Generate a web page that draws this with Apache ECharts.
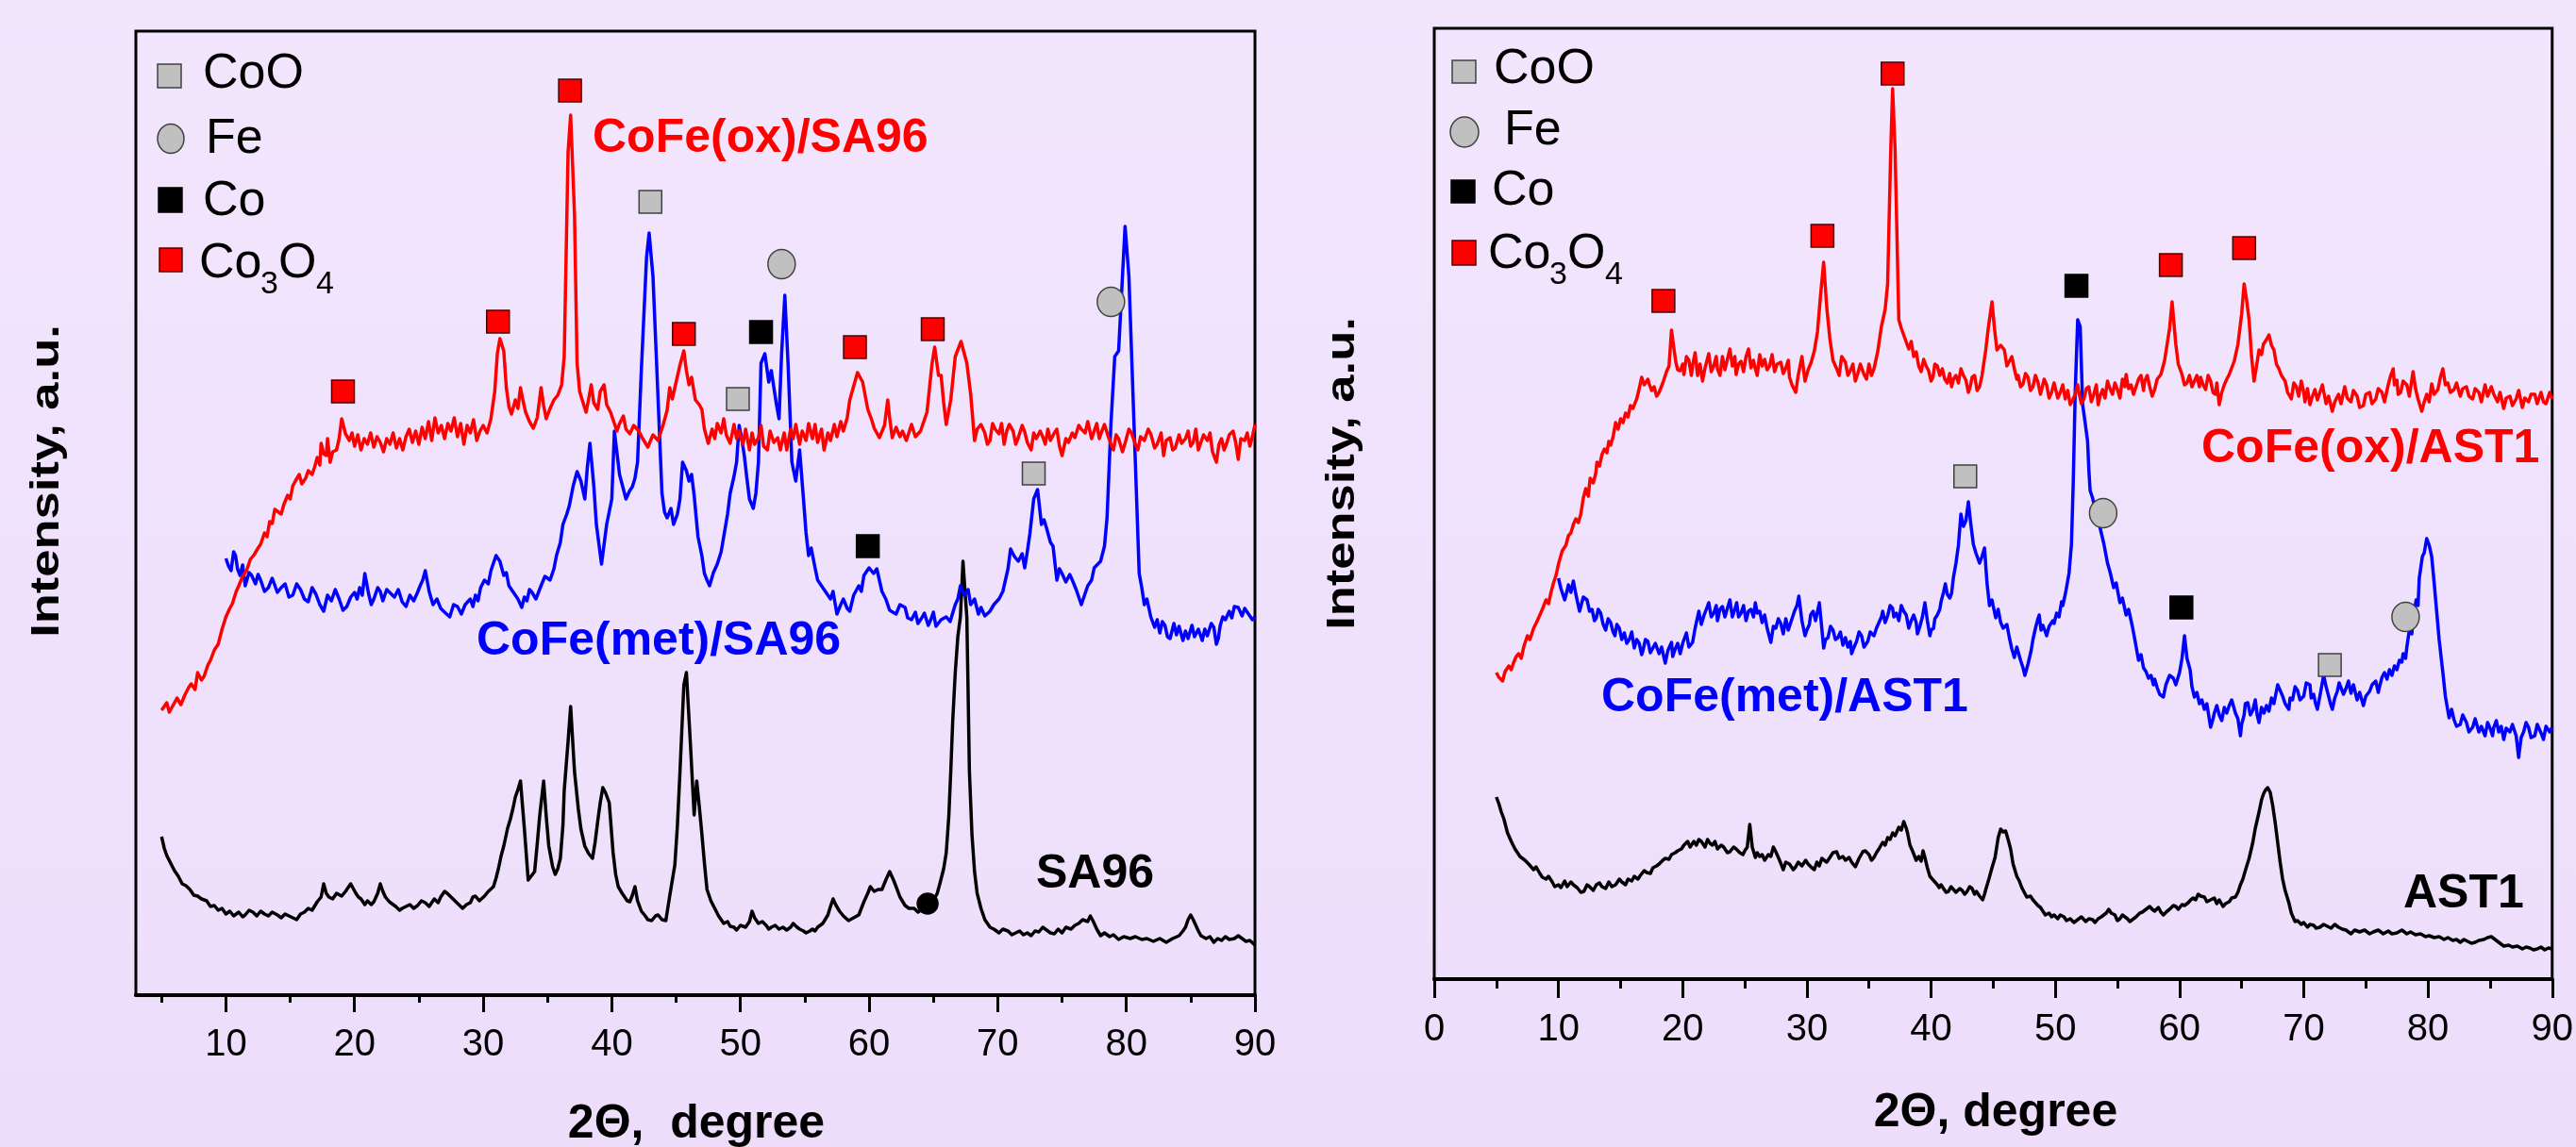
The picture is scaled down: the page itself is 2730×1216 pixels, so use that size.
<!DOCTYPE html>
<html>
<head>
<meta charset="utf-8">
<title>XRD CoFe</title>
<script src="https://cdn.jsdelivr.net/npm/echarts@6/dist/echarts.min.js"></script>
<style>
  html, body { margin: 0; padding: 0; }
  #chart { width: 2730px; height: 1216px; }
</style>
</head>
<body>
<div id="chart"></div>
<script>
// x ticks
const majorTicksLeft = [10, 20, 30, 40, 50, 60, 70, 80, 90];
const minorTicksLeft = [5, 15, 25, 35, 45, 55, 65, 75, 85];

// left panel, 2theta vs intensity (a.u.)
const oxSA96 = [[5.0,302],[5.4,310],[5.6,300],[5.8,305],[6.2,315],[6.5,308],[6.8,318],[7.1,326],[7.3,330],[7.6,324],[7.8,342],[8.1,334],[8.3,338],[8.6,350],[8.8,355],[9.1,366],[9.4,372],[9.7,388],[10.0,401],[10.3,410],[10.5,415],[10.8,428],[11.0,434],[11.3,444],[11.6,450],[11.9,462],[12.2,467],[12.5,474],[12.7,478],[13.0,490],[13.2,486],[13.4,502],[13.6,500],[13.8,515],[14.0,513],[14.3,510],[14.5,520],[14.8,530],[15.0,526],[15.2,540],[15.4,545],[15.7,552],[15.9,542],[16.2,548],[16.4,556],[16.7,552],[16.9,560],[17.1,570],[17.3,562],[17.4,585],[17.6,574],[17.8,572],[17.9,590],[18.1,565],[18.3,576],[18.6,578],[18.8,590],[19.0,611],[19.3,595],[19.6,588],[19.8,596],[20.0,582],[20.25,594],[20.5,578],[20.75,590],[21.0,584],[21.25,596],[21.5,581],[21.75,592],[22.0,586],[22.25,576],[22.5,590],[22.75,584],[23.0,596],[23.25,580],[23.5,590],[23.75,578],[24.0,592],[24.25,600],[24.5,586],[24.75,598],[25.0,584],[25.25,602],[25.5,590],[25.75,608],[26.0,588],[26.25,612],[26.5,596],[26.75,604],[27.0,590],[27.25,606],[27.5,598],[27.75,612],[28.0,592],[28.25,606],[28.5,584],[28.75,604],[29.0,596],[29.25,610],[29.5,588],[29.75,598],[30.0,604],[30.3,596],[30.6,611],[30.9,640],[31.1,680],[31.3,696],[31.6,683],[31.8,644],[32.0,624],[32.2,616],[32.5,631],[32.7,622],[32.9,644],[33.1,630],[33.3,618],[33.6,608],[33.9,601],[34.2,612],[34.5,644],[34.7,625],[34.9,611],[35.2,622],[35.5,631],[35.8,636],[36.1,647],[36.3,677],[36.6,894],[36.8,933],[37.1,828],[37.3,670],[37.5,640],[37.7,631],[38.0,618],[38.2,632],[38.4,647],[38.6,628],[38.9,621],[39.1,640],[39.4,647],[39.6,626],[39.9,618],[40.1,610],[40.4,598],[40.6,606],[40.9,614],[41.1,600],[41.4,595],[41.7,604],[42.1,598],[42.4,590],[42.8,581],[43.2,594],[43.6,588],[44.0,605],[44.3,620],[44.5,644],[44.7,632],[45.0,650],[45.3,668],[45.6,683],[45.8,662],[46.0,647],[46.2,655],[46.5,631],[46.8,626],[47.0,621],[47.2,600],[47.5,585],[47.8,600],[48.0,590],[48.2,606],[48.5,596],[48.7,611],[48.9,594],[49.2,585],[49.5,605],[49.7,590],[49.9,598],[50.2,584],[50.4,600],[50.7,578],[50.9,596],[51.1,584],[51.4,591],[51.6,604],[51.8,582],[52.1,578],[52.3,598],[52.6,586],[52.9,591],[53.1,578],[53.4,596],[53.6,578],[53.9,600],[54.1,590],[54.3,605],[54.6,584],[54.8,598],[55.1,588],[55.3,606],[55.6,590],[55.8,605],[56.0,586],[56.3,600],[56.5,578],[56.8,596],[57.0,588],[57.3,605],[57.5,592],[57.8,608],[58.0,598],[58.3,612],[58.5,631],[59.1,660],[59.5,650],[59.9,621],[60.2,610],[60.4,601],[60.6,596],[60.8,591],[61.2,604],[61.45,631],[61.6,612],[61.8,591],[62.1,602],[62.4,592],[62.6,598],[62.9,588],[63.3,605],[63.6,592],[64.0,598],[64.2,606],[64.5,618],[64.9,670],[65.1,687],[65.4,657],[65.6,657],[65.8,628],[66.0,605],[66.35,631],[66.7,677],[67.15,693],[67.6,670],[67.9,637],[68.2,588],[68.4,600],[68.7,605],[69.0,596],[69.2,584],[69.4,588],[69.6,606],[69.8,600],[70.1,595],[70.3,606],[70.5,584],[70.7,598],[70.9,605],[71.2,598],[71.4,584],[71.6,591],[71.9,604],[72.1,597],[72.3,586],[72.6,578],[72.8,596],[73.0,590],[73.3,598],[73.5,592],[73.7,584],[73.9,600],[74.1,588],[74.4,596],[74.6,600],[74.8,582],[75.0,572],[75.3,590],[75.5,586],[75.8,596],[76.0,591],[76.3,604],[76.5,600],[76.8,596],[77.0,608],[77.3,590],[77.5,598],[77.7,606],[77.9,590],[78.1,598],[78.3,605],[78.6,592],[78.8,584],[79.0,578],[79.2,594],[79.4,590],[79.7,576],[79.9,585],[80.2,600],[80.4,596],[80.7,584],[80.9,578],[81.1,592],[81.4,588],[81.7,600],[81.9,595],[82.2,580],[82.4,584],[82.7,596],[82.9,572],[83.1,588],[83.4,591],[83.6,578],[83.8,580],[84.1,594],[84.3,585],[84.6,590],[84.8,598],[85.0,582],[85.2,586],[85.4,600],[85.6,578],[85.8,586],[86.0,594],[86.3,588],[86.5,596],[86.7,576],[87.0,565],[87.2,584],[87.4,590],[87.6,578],[87.8,585],[88.0,594],[88.3,598],[88.5,586],[88.7,568],[88.9,590],[89.2,588],[89.4,596],[89.6,582],[89.8,592],[90.0,605]];
const metSA96 = [[10.0,463],[10.2,455],[10.4,450],[10.6,470],[10.75,466],[10.9,452],[11.1,445],[11.3,456],[11.5,434],[11.8,448],[12.0,445],[12.3,436],[12.5,446],[12.7,440],[13.0,428],[13.3,432],[13.6,442],[14.0,427],[14.3,432],[14.6,436],[14.9,422],[15.2,424],[15.5,436],[15.8,430],[16.1,420],[16.4,417],[16.7,432],[17.0,425],[17.3,414],[17.6,407],[17.9,424],[18.2,418],[18.5,430],[18.8,420],[19.1,408],[19.4,412],[19.7,422],[20.0,427],[20.2,420],[20.4,432],[20.6,424],[20.8,447],[21.1,425],[21.3,414],[21.5,420],[21.8,432],[22.0,428],[22.2,418],[22.5,430],[22.8,426],[23.1,422],[23.4,430],[23.7,417],[24.0,412],[24.3,424],[24.6,418],[24.9,427],[25.1,434],[25.3,440],[25.5,450],[25.8,428],[26.1,414],[26.4,420],[26.7,410],[27.0,406],[27.4,401],[27.7,414],[28.0,412],[28.3,404],[28.6,414],[29.0,420],[29.2,412],[29.4,424],[29.6,418],[29.8,432],[30.1,440],[30.4,436],[30.6,450],[30.8,458],[31.0,466],[31.3,460],[31.6,445],[31.8,448],[32.0,434],[32.3,428],[32.7,420],[33.0,411],[33.2,422],[33.4,418],[33.6,430],[33.8,427],[34.1,420],[34.5,434],[34.8,444],[35.2,440],[35.5,452],[35.7,466],[36.0,480],[36.2,499],[36.5,510],[36.7,519],[37.0,540],[37.3,555],[37.6,545],[37.9,526],[38.1,560],[38.3,585],[38.6,540],[38.8,499],[39.2,457],[39.6,499],[40.0,526],[40.2,598],[40.6,552],[41.1,526],[41.4,535],[41.6,539],[41.8,548],[42.0,565],[42.3,664],[42.7,782],[42.9,808],[43.2,762],[43.6,631],[43.9,532],[44.1,512],[44.3,506],[44.6,516],[44.8,499],[45.1,510],[45.3,526],[45.5,565],[45.8,556],[46.0,545],[46.2,552],[46.4,530],[46.7,486],[47.0,466],[47.2,447],[47.4,440],[47.6,434],[47.9,448],[48.2,457],[48.5,470],[48.7,486],[49.0,510],[49.2,532],[49.5,550],[49.7,565],[49.9,604],[50.1,590],[50.3,572],[50.5,548],[50.7,526],[51.0,516],[51.2,532],[51.4,565],[51.6,670],[51.9,680],[52.2,650],[52.4,662],[52.6,644],[52.8,626],[53.0,611],[53.2,680],[53.45,742],[53.7,670],[54.0,565],[54.3,545],[54.6,578],[54.9,526],[55.1,490],[55.3,466],[55.5,474],[55.8,453],[56.0,440],[56.3,434],[56.6,428],[57.0,420],[57.2,428],[57.5,404],[57.8,414],[58.0,420],[58.3,410],[58.5,407],[58.8,424],[59.2,434],[59.4,428],[59.6,445],[60.0,453],[60.35,447],[60.6,452],[60.8,440],[61.0,428],[61.3,420],[61.6,408],[62.1,404],[62.4,414],[62.8,411],[63.0,400],[63.3,398],[63.6,406],[63.8,394],[64.1,400],[64.3,405],[64.6,392],[64.8,398],[65.0,406],[65.2,391],[65.6,398],[66.0,401],[66.3,396],[66.7,414],[66.9,420],[67.1,434],[67.4,424],[67.7,430],[67.9,414],[68.2,420],[68.5,404],[68.7,411],[69.0,402],[69.4,407],[69.7,414],[70.1,420],[70.4,428],[70.6,440],[70.8,452],[71.0,473],[71.3,465],[71.6,460],[71.9,468],[72.1,453],[72.3,470],[72.5,489],[72.8,526],[73.1,536],[73.4,499],[73.6,504],[73.8,495],[74.1,480],[74.3,476],[74.6,440],[74.8,452],[75.0,447],[75.3,438],[75.6,446],[75.8,440],[76.1,430],[76.5,414],[76.8,426],[77.0,434],[77.3,440],[77.5,453],[78.0,460],[78.3,476],[78.5,506],[78.8,605],[79.1,677],[79.4,683],[79.7,762],[79.9,815],[80.2,762],[80.4,683],[80.7,565],[81.0,447],[81.2,432],[81.4,414],[81.6,420],[81.9,401],[82.2,390],[82.4,398],[82.6,384],[82.8,396],[83.0,392],[83.2,380],[83.4,378],[83.7,394],[83.9,382],[84.1,391],[84.4,376],[84.6,386],[84.8,378],[85.1,392],[85.3,380],[85.6,388],[85.9,376],[86.1,388],[86.3,381],[86.6,394],[86.8,390],[87.0,372],[87.15,378],[87.3,392],[87.5,401],[87.7,398],[88.0,407],[88.2,400],[88.4,412],[88.7,411],[89.0,402],[89.2,410],[89.5,404],[89.8,398],[90.0,401]];
const SA96 = [[5.0,168],[5.2,156],[5.4,148],[5.7,140],[6.0,132],[6.3,126],[6.6,118],[6.9,116],[7.2,112],[7.5,106],[7.8,105],[8.1,102],[8.5,100],[8.8,94],[9.1,95],[9.4,90],[9.7,92],[10.0,86],[10.3,89],[10.6,84],[11.0,88],[11.3,83],[11.5,85],[11.8,90],[12.1,88],[12.4,84],[12.7,89],[13.0,86],[13.3,84],[13.6,88],[14.0,85],[14.3,82],[14.6,86],[14.9,84],[15.2,82],[15.5,80],[15.8,86],[16.1,88],[16.4,92],[16.7,90],[17.1,99],[17.4,104],[17.6,118],[17.8,108],[18.0,104],[18.3,102],[18.6,108],[19.0,105],[19.3,110],[19.7,118],[20.1,108],[20.3,104],[20.5,102],[20.8,96],[21.0,100],[21.3,96],[21.5,99],[21.8,108],[22.0,118],[22.2,110],[22.4,104],[22.7,99],[23.0,96],[23.2,94],[23.5,90],[23.7,92],[24.0,94],[24.3,96],[24.6,92],[24.9,95],[25.2,100],[25.5,98],[25.8,94],[26.2,102],[26.5,98],[26.7,104],[27.0,110],[27.2,108],[27.5,104],[27.8,100],[28.1,96],[28.4,92],[28.7,96],[29.0,98],[29.2,104],[29.4,105],[29.7,100],[30.1,105],[30.4,110],[30.8,115],[31.0,124],[31.2,135],[31.4,148],[31.6,158],[31.9,177],[32.1,186],[32.3,197],[32.5,210],[32.7,218],[32.9,227],[33.2,177],[33.5,122],[34.0,131],[34.2,160],[34.4,191],[34.7,227],[34.9,190],[35.1,158],[35.4,136],[35.6,128],[35.8,134],[36.0,145],[36.2,180],[36.3,217],[36.6,269],[36.8,306],[37.1,237],[37.4,197],[37.6,176],[37.9,158],[38.2,150],[38.5,145],[38.7,162],[38.9,184],[39.1,204],[39.3,220],[39.5,215],[39.8,204],[40.1,151],[40.3,128],[40.5,115],[40.8,108],[41.0,104],[41.2,100],[41.4,99],[41.6,106],[41.8,115],[42.0,100],[42.3,89],[42.6,84],[42.8,80],[43.1,79],[43.4,84],[43.6,85],[43.9,80],[44.2,79],[44.5,105],[44.9,138],[45.1,180],[45.3,237],[45.6,329],[45.8,342],[46.1,269],[46.4,191],[46.6,227],[46.8,200],[47.0,171],[47.2,140],[47.4,112],[47.7,100],[48.0,92],[48.3,84],[48.7,76],[49.0,78],[49.2,73],[49.5,72],[49.7,69],[50.0,74],[50.4,72],[50.7,78],[50.9,89],[51.1,82],[51.4,76],[51.7,78],[52.0,74],[52.2,70],[52.4,72],[52.7,74],[53.0,70],[53.3,72],[53.6,69],[53.9,72],[54.1,76],[54.4,72],[54.6,70],[54.9,68],[55.1,66],[55.4,68],[55.6,70],[55.8,68],[56.0,72],[56.4,76],[56.8,85],[57.0,94],[57.2,102],[57.4,96],[57.7,89],[58.0,84],[58.4,79],[58.8,82],[59.2,85],[59.4,92],[59.6,99],[59.9,108],[60.1,115],[60.4,110],[60.7,112],[61.0,112],[61.3,122],[61.6,131],[61.9,122],[62.1,115],[62.4,104],[62.8,95],[63.1,92],[63.5,92],[63.8,88],[64.0,90],[64.5,92],[64.8,96],[65.0,100],[65.3,108],[65.5,118],[65.8,134],[66.0,151],[66.2,190],[66.35,237],[66.5,290],[66.7,342],[66.9,380],[67.1,401],[67.3,460],[67.45,430],[67.6,401],[67.7,320],[67.8,237],[68.0,170],[68.2,131],[68.4,108],[68.7,92],[69.0,80],[69.4,72],[69.7,70],[70.1,66],[70.4,70],[70.8,68],[71.1,64],[71.4,66],[71.7,68],[72.0,64],[72.3,66],[72.6,63],[72.9,68],[73.2,67],[73.5,72],[73.8,69],[74.1,66],[74.4,65],[74.7,70],[75.0,66],[75.3,72],[75.7,70],[76.0,74],[76.3,76],[76.6,80],[77.0,78],[77.2,84],[77.4,79],[77.7,70],[78.0,63],[78.3,66],[78.7,62],[79.0,64],[79.4,59],[79.8,62],[80.3,60],[80.7,62],[81.2,59],[81.6,60],[82.1,57],[82.6,60],[83.1,56],[83.6,60],[84.1,63],[84.4,68],[84.6,72],[84.8,80],[85.0,85],[85.2,80],[85.4,74],[85.6,68],[85.8,63],[86.2,60],[86.5,62],[86.8,56],[87.1,60],[87.4,58],[87.7,62],[88.0,59],[88.4,60],[88.7,63],[89.0,60],[89.3,57],[89.6,58],[90.0,53]];

// right panel
const oxAST1 = [[5.0,325],[5.2,320],[5.5,316],[5.7,326],[6.0,332],[6.2,328],[6.4,336],[6.6,342],[6.8,345],[7.0,340],[7.2,352],[7.5,364],[7.7,360],[8.0,372],[8.3,380],[8.5,386],[8.7,392],[9.0,402],[9.2,398],[9.4,410],[9.6,420],[9.8,428],[10.0,440],[10.3,454],[10.6,460],[10.8,470],[11.0,473],[11.2,482],[11.4,488],[11.6,484],[11.8,493],[12.0,510],[12.2,520],[12.4,512],[12.55,531],[12.8,526],[13.0,536],[13.1,548],[13.3,544],[13.5,556],[13.7,562],[13.9,558],[14.05,570],[14.2,566],[14.4,575],[14.6,590],[14.8,583],[15.0,594],[15.2,590],[15.4,600],[15.6,596],[15.8,608],[16.0,605],[16.2,612],[16.3,615],[16.5,626],[16.7,638],[16.9,630],[17.0,632],[17.2,636],[17.3,631],[17.5,624],[17.7,628],[17.9,618],[18.1,622],[18.4,632],[18.7,644],[18.9,650],[19.1,688],[19.3,668],[19.45,654],[19.6,646],[19.8,645],[20.0,652],[20.1,641],[20.3,660],[20.5,656],[20.7,640],[20.8,651],[21.0,664],[21.2,640],[21.4,652],[21.6,634],[21.8,648],[22.1,663],[22.3,644],[22.5,650],[22.7,660],[22.8,647],[23.0,640],[23.2,660],[23.4,646],[23.6,657],[23.8,668],[24.0,650],[24.2,660],[24.3,641],[24.5,652],[24.7,655],[24.9,644],[25.1,660],[25.3,668],[25.5,648],[25.7,656],[25.85,647],[26.0,640],[26.2,662],[26.4,650],[26.6,657],[26.8,646],[27.0,650],[27.2,662],[27.4,644],[27.6,652],[27.9,654],[28.1,642],[28.3,648],[28.5,656],[28.6,638],[28.8,630],[29.1,622],[29.3,640],[29.6,660],[29.85,634],[30.1,646],[30.35,654],[30.6,666],[30.85,686],[31.1,725],[31.35,760],[31.6,712],[31.85,679],[32.1,656],[32.4,647],[32.6,640],[32.8,660],[33.1,654],[33.3,640],[33.5,645],[33.7,652],[33.9,634],[34.1,642],[34.3,652],[34.6,641],[34.8,636],[35.0,652],[35.2,640],[35.4,647],[35.7,665],[36.0,692],[36.3,710],[36.5,737],[36.75,879],[36.9,944],[37.1,879],[37.4,699],[37.6,690],[37.9,679],[38.2,668],[38.4,676],[38.6,660],[38.8,665],[39.0,650],[39.2,644],[39.4,657],[39.6,650],[39.8,645],[40.0,634],[40.15,638],[40.3,652],[40.5,650],[40.7,640],[40.9,647],[41.1,636],[41.3,632],[41.5,642],[41.65,628],[41.8,636],[42.0,640],[42.2,632],[42.4,647],[42.6,640],[42.8,635],[43.0,622],[43.15,628],[43.3,638],[43.5,640],[43.7,624],[43.9,628],[44.1,640],[44.4,667],[44.6,690],[44.9,718],[45.1,690],[45.3,667],[45.6,672],[45.9,667],[46.1,650],[46.3,655],[46.5,660],[46.7,647],[46.9,636],[47.0,640],[47.2,628],[47.4,631],[47.6,642],[47.8,638],[48.0,624],[48.2,628],[48.4,640],[48.6,633],[48.8,620],[48.9,625],[49.1,636],[49.3,630],[49.5,616],[49.7,622],[49.9,632],[50.0,630],[50.2,616],[50.4,622],[50.6,630],[50.8,615],[51.0,624],[51.2,609],[51.4,614],[51.6,620],[51.8,630],[51.9,622],[52.1,610],[52.3,615],[52.5,626],[52.7,628],[52.9,612],[53.1,620],[53.3,630],[53.45,609],[53.6,618],[53.8,625],[54.0,616],[54.2,634],[54.4,626],[54.6,620],[54.8,632],[55.0,625],[55.2,616],[55.4,636],[55.6,628],[55.7,641],[55.9,626],[56.1,630],[56.3,620],[56.5,628],[56.7,636],[56.9,640],[57.1,624],[57.2,634],[57.4,640],[57.6,628],[57.8,618],[58.0,625],[58.2,636],[58.5,641],[58.8,656],[59.0,673],[59.2,690],[59.4,718],[59.7,673],[59.9,652],[60.2,641],[60.4,630],[60.6,632],[60.8,640],[61.0,628],[61.2,634],[61.4,640],[61.6,628],[61.7,638],[61.9,630],[62.1,625],[62.3,640],[62.5,634],[62.7,622],[62.9,620],[63.0,632],[63.2,609],[63.4,622],[63.6,630],[63.8,636],[64.0,641],[64.2,648],[64.4,655],[64.7,673],[65.0,705],[65.2,737],[65.4,720],[65.6,699],[65.8,660],[66.0,634],[66.2,650],[66.4,667],[66.6,662],[66.75,673],[67.0,678],[67.2,683],[67.4,672],[67.6,667],[67.8,652],[68.0,647],[68.2,640],[68.5,634],[68.7,622],[69.0,615],[69.2,632],[69.4,628],[69.6,618],[69.8,634],[70.0,622],[70.1,612],[70.3,626],[70.5,609],[70.7,618],[70.9,625],[71.1,614],[71.3,622],[71.5,630],[71.8,610],[72.0,618],[72.3,602],[72.5,612],[72.8,620],[73.0,610],[73.3,628],[73.5,616],[73.8,612],[74.0,624],[74.3,618],[74.5,606],[74.8,608],[75.0,620],[75.3,622],[75.5,610],[75.8,615],[76.0,626],[76.3,622],[76.5,612],[76.8,630],[77.0,640],[77.2,647],[77.3,630],[77.5,635],[77.6,620],[77.8,622],[78.0,634],[78.3,630],[78.5,618],[78.8,644],[79.0,626],[79.2,615],[79.5,602],[79.7,612],[79.9,620],[80.1,612],[80.3,631],[80.5,620],[80.8,625],[81.0,638],[81.2,647],[81.4,630],[81.6,632],[81.8,622],[82.1,625],[82.3,632],[82.6,618],[82.8,626],[83.1,628],[83.3,618],[83.6,615],[83.8,626],[84.1,622],[84.3,612],[84.6,630],[84.8,618],[85.1,628],[85.3,620],[85.6,612],[85.8,622],[86.1,605],[86.3,616],[86.6,618],[86.8,608],[87.1,615],[87.3,624],[87.6,606],[87.8,616],[88.1,612],[88.3,620],[88.6,620],[88.8,610],[89.1,622],[89.3,612],[89.5,610],[89.8,622],[90.0,615]];
const metAST1 = [[10.0,425],[10.2,414],[10.5,402],[10.7,412],[10.8,418],[11.0,410],[11.2,422],[11.4,408],[11.7,390],[12.0,405],[12.3,402],[12.5,390],[12.7,392],[12.9,380],[13.05,383],[13.2,392],[13.4,388],[13.6,376],[13.8,370],[14.0,382],[14.2,378],[14.4,368],[14.55,364],[14.7,376],[14.9,372],[15.1,360],[15.3,367],[15.5,356],[15.7,360],[15.9,368],[16.1,351],[16.3,360],[16.5,356],[16.7,344],[16.8,348],[17.0,360],[17.2,358],[17.4,346],[17.6,351],[17.8,356],[18.1,345],[18.3,352],[18.6,335],[18.8,348],[19.1,357],[19.2,342],[19.4,350],[19.6,356],[19.8,345],[20.0,356],[20.3,367],[20.5,352],[20.8,357],[21.0,372],[21.3,390],[21.5,376],[21.7,385],[21.9,392],[22.1,399],[22.3,384],[22.5,388],[22.7,396],[22.8,380],[23.0,392],[23.2,395],[23.4,384],[23.6,393],[23.8,402],[24.0,384],[24.2,392],[24.35,399],[24.5,384],[24.7,388],[24.9,396],[25.1,380],[25.3,390],[25.5,392],[25.7,384],[25.85,399],[26.0,388],[26.2,390],[26.4,378],[26.6,386],[26.8,372],[27.1,357],[27.3,374],[27.5,372],[27.7,382],[27.9,377],[28.1,366],[28.3,382],[28.5,370],[28.6,374],[28.8,382],[29.0,390],[29.2,396],[29.35,406],[29.6,380],[29.85,364],[30.0,370],[30.2,376],[30.3,386],[30.5,390],[30.7,380],[31.0,399],[31.2,372],[31.35,351],[31.5,360],[31.7,362],[31.9,374],[32.1,370],[32.3,360],[32.5,362],[32.7,368],[32.9,354],[33.1,362],[33.3,352],[33.5,358],[33.6,345],[33.8,352],[34.0,358],[34.2,368],[34.4,364],[34.6,352],[34.9,358],[35.1,368],[35.4,364],[35.6,372],[35.8,378],[36.0,384],[36.1,390],[36.3,378],[36.5,385],[36.7,396],[36.9,393],[37.0,384],[37.2,388],[37.4,380],[37.6,396],[37.8,390],[38.0,386],[38.2,372],[38.4,380],[38.6,386],[38.8,378],[38.9,366],[39.1,374],[39.3,384],[39.5,399],[39.7,380],[39.9,364],[40.0,370],[40.2,372],[40.3,382],[40.5,386],[40.7,392],[40.8,400],[41.0,410],[41.15,419],[41.3,408],[41.5,404],[41.65,409],[41.8,426],[42.0,441],[42.2,460],[42.4,493],[42.6,480],[42.8,486],[43.0,506],[43.2,482],[43.4,461],[43.6,452],[43.9,441],[44.1,448],[44.3,457],[44.5,420],[44.7,396],[44.9,402],[45.2,383],[45.4,392],[45.6,378],[45.8,372],[45.9,370],[46.1,376],[46.3,362],[46.5,350],[46.7,341],[46.9,352],[47.2,338],[47.4,330],[47.55,322],[47.8,334],[48.05,348],[48.2,360],[48.4,372],[48.6,382],[48.7,386],[48.85,370],[49.0,375],[49.2,368],[49.3,364],[49.5,374],[49.6,372],[49.8,380],[49.9,377],[50.1,388],[50.3,384],[50.5,400],[50.6,396],[50.8,408],[50.9,415],[51.1,430],[51.3,461],[51.45,530],[51.6,622],[51.8,699],[52.0,692],[52.2,609],[52.4,590],[52.6,570],[52.7,540],[52.8,518],[53.0,510],[53.2,499],[53.4,490],[53.7,473],[53.9,462],[54.2,441],[54.4,432],[54.7,415],[54.9,420],[55.2,399],[55.4,404],[55.7,386],[55.9,392],[56.2,374],[56.4,360],[56.7,338],[56.9,344],[57.1,330],[57.3,326],[57.5,319],[57.7,322],[57.9,312],[58.0,318],[58.2,309],[58.4,302],[58.7,299],[58.9,312],[59.0,310],[59.2,322],[59.5,319],[59.7,312],[60.0,325],[60.2,340],[60.4,364],[60.6,340],[60.85,328],[61.0,310],[61.2,299],[61.4,304],[61.6,292],[61.8,296],[62.0,286],[62.2,292],[62.5,267],[62.7,276],[62.8,282],[63.0,290],[63.2,280],[63.4,274],[63.6,288],[63.8,282],[64.0,290],[64.2,296],[64.5,282],[64.7,276],[64.9,258],[65.0,270],[65.2,280],[65.3,292],[65.5,293],[65.7,280],[65.9,285],[66.1,296],[66.25,280],[66.4,272],[66.6,288],[66.8,282],[67.0,290],[67.2,284],[67.4,298],[67.6,292],[67.9,312],[68.1,306],[68.3,300],[68.5,292],[68.8,286],[68.9,298],[69.1,296],[69.3,310],[69.5,306],[69.7,296],[70.0,300],[70.2,314],[70.5,312],[70.6,298],[70.8,302],[70.95,292],[71.1,286],[71.3,300],[71.6,322],[71.8,310],[72.0,300],[72.15,292],[72.3,286],[72.5,298],[72.7,305],[72.85,314],[73.0,316],[73.2,302],[73.4,308],[73.6,316],[73.8,303],[74.0,312],[74.3,296],[74.5,304],[74.8,290],[75.0,300],[75.3,305],[75.5,312],[75.8,316],[76.0,304],[76.1,310],[76.3,320],[76.5,325],[76.7,318],[76.9,328],[77.1,322],[77.3,332],[77.5,328],[77.7,338],[77.9,336],[78.0,345],[78.2,340],[78.3,352],[78.5,370],[78.7,366],[78.8,382],[79.05,402],[79.2,396],[79.3,425],[79.55,448],[79.7,452],[79.9,467],[80.1,460],[80.3,448],[80.5,420],[80.7,390],[80.9,360],[81.2,325],[81.4,300],[81.7,277],[81.9,286],[82.1,275],[82.3,268],[82.6,270],[82.8,280],[83.1,272],[83.3,262],[83.6,267],[83.8,276],[84.1,262],[84.3,268],[84.6,258],[84.8,272],[85.0,266],[85.2,258],[85.3,267],[85.5,274],[85.7,262],[85.9,268],[86.1,254],[86.3,266],[86.6,262],[86.8,270],[87.1,258],[87.3,235],[87.5,256],[87.7,262],[87.9,272],[88.1,267],[88.3,256],[88.6,258],[88.8,270],[89.1,261],[89.3,254],[89.5,268],[89.8,262],[90.0,267]];
const AST1 = [[5.0,193],[5.2,186],[5.4,177],[5.6,170],[5.9,155],[6.2,146],[6.5,138],[6.9,130],[7.3,126],[7.6,122],[8.0,116],[8.2,119],[8.5,112],[8.7,108],[9.0,106],[9.2,109],[9.5,103],[9.7,98],[10.0,100],[10.2,97],[10.5,104],[10.7,98],[11.0,103],[11.2,100],[11.5,97],[11.8,92],[12.05,93],[12.3,100],[12.5,98],[12.8,94],[13.05,100],[13.3,102],[13.5,98],[13.8,96],[14.05,103],[14.3,98],[14.6,100],[14.9,106],[15.1,103],[15.4,100],[15.6,106],[15.9,104],[16.1,109],[16.4,106],[16.6,110],[16.9,115],[17.1,113],[17.4,112],[17.6,118],[17.9,120],[18.1,122],[18.4,126],[18.6,128],[18.9,127],[19.1,132],[19.4,134],[19.6,136],[19.9,138],[20.1,142],[20.4,146],[20.6,140],[20.9,146],[21.1,142],[21.3,148],[21.5,146],[21.8,140],[22.0,148],[22.2,144],[22.4,142],[22.6,146],[22.8,138],[23.1,142],[23.3,140],[23.6,134],[23.8,135],[24.1,140],[24.3,138],[24.6,134],[24.85,132],[25.0,136],[25.2,140],[25.4,164],[25.6,140],[25.85,129],[26.0,134],[26.2,130],[26.4,132],[26.6,126],[26.9,132],[27.1,130],[27.3,140],[27.5,135],[27.8,126],[28.1,116],[28.3,124],[28.6,122],[28.9,116],[29.1,119],[29.3,124],[29.6,120],[29.9,126],[30.1,122],[30.4,118],[30.6,116],[30.8,124],[31.0,120],[31.2,128],[31.35,126],[31.6,124],[31.9,130],[32.1,134],[32.4,135],[32.6,128],[32.9,130],[33.1,126],[33.4,129],[33.6,124],[33.9,119],[34.2,128],[34.5,135],[34.7,136],[35.0,132],[35.2,126],[35.4,129],[35.6,134],[35.8,138],[36.1,145],[36.3,142],[36.5,150],[36.7,148],[36.9,155],[37.1,152],[37.4,161],[37.6,158],[37.8,167],[38.0,160],[38.1,155],[38.3,142],[38.5,136],[38.8,126],[39.0,130],[39.2,125],[39.35,136],[39.5,129],[39.7,118],[39.9,109],[40.1,106],[40.3,103],[40.5,100],[40.65,97],[40.8,100],[41.0,96],[41.2,92],[41.4,93],[41.6,98],[41.8,95],[42.0,92],[42.15,90],[42.3,96],[42.5,94],[42.7,90],[42.9,93],[43.1,98],[43.3,96],[43.5,90],[43.65,93],[43.9,88],[44.15,84],[44.3,90],[44.4,95],[44.65,106],[44.9,118],[45.15,129],[45.4,150],[45.6,159],[45.8,156],[46.0,157],[46.2,148],[46.4,138],[46.6,122],[46.9,109],[47.1,104],[47.3,97],[47.5,92],[47.7,87],[48.0,88],[48.2,84],[48.4,81],[48.6,78],[48.8,76],[49.0,72],[49.2,68],[49.5,70],[49.7,66],[49.9,68],[50.2,64],[50.4,68],[50.7,66],[50.9,62],[51.2,64],[51.5,60],[51.8,63],[52.1,66],[52.45,61],[52.7,64],[53.0,63],[53.2,60],[53.45,64],[53.7,66],[53.9,68],[54.1,70],[54.3,74],[54.5,70],[54.8,68],[55.0,62],[55.2,64],[55.4,68],[55.6,66],[55.8,64],[56.0,61],[56.3,64],[56.5,66],[56.8,70],[57.0,71],[57.3,74],[57.6,77],[57.8,74],[58.0,72],[58.3,76],[58.5,71],[58.7,68],[59.0,72],[59.2,74],[59.5,78],[59.7,77],[59.9,74],[60.2,79],[60.4,78],[60.7,81],[60.9,84],[61.1,86],[61.3,84],[61.5,90],[61.7,88],[62.0,87],[62.2,82],[62.5,84],[62.8,86],[63.0,80],[63.2,84],[63.5,77],[63.7,80],[64.0,82],[64.2,86],[64.5,87],[64.7,92],[64.9,100],[65.1,106],[65.25,113],[65.6,128],[65.9,145],[66.1,160],[66.4,177],[66.6,190],[66.75,196],[66.9,200],[67.1,203],[67.3,198],[67.5,184],[67.7,166],[67.9,145],[68.1,124],[68.3,106],[68.5,94],[68.8,81],[69.0,70],[69.3,61],[69.5,62],[69.8,58],[70.0,60],[70.3,55],[70.5,58],[70.8,57],[71.0,54],[71.3,55],[71.6,58],[71.9,56],[72.2,54],[72.5,58],[72.8,55],[73.1,53],[73.4,52],[73.8,48],[74.1,52],[74.5,50],[74.9,52],[75.3,48],[75.6,50],[76.0,52],[76.4,48],[76.8,51],[77.1,48],[77.5,49],[77.9,52],[78.3,48],[78.6,50],[79.0,47],[79.4,48],[79.8,45],[80.1,46],[80.5,44],[80.9,45],[81.3,42],[81.6,44],[82.0,41],[82.3,42],[82.6,39],[82.9,42],[83.2,40],[83.5,38],[83.8,39],[84.1,41],[84.5,42],[84.8,44],[85.1,45],[85.3,43],[85.6,40],[85.9,37],[86.1,35],[86.5,36],[86.8,34],[87.2,35],[87.6,32],[87.9,34],[88.2,33],[88.5,31],[88.8,32],[89.1,34],[89.4,31],[89.7,33],[90.0,32]];

// phase markers above the peaks
const cooLeft = [[43.0,841],[49.8,632],[72.8,553]];
const feLeft = [[53.2,775],[78.8,735]];
const coLeft = [[51.6,703],[59.9,476]];
const coDotLeft = [[64.55,97]];
const co3o4Left = [[19.1,640],[31.15,714],[36.75,959],[45.6,701],[58.9,687],[64.95,706]];

const cooRight = [[42.75,533],[72.1,333]];
const feRight = [[53.85,494],[78.2,384]];
const coRight = [[51.7,735],[60.15,394]];
const co3o4Right = [[18.45,719],[31.25,788],[36.9,960],[59.3,757],[65.2,775]];

const FONT = '"Liberation Sans", Arial, sans-serif';
const GREY = '#C0C0C0';

let chart = echarts.init(document.getElementById('chart'));

function line(data, color, idx) {
  return {
    type: 'line', data: data, xAxisIndex: idx, yAxisIndex: idx,
    showSymbol: false, symbol: 'none', silent: true,
    lineStyle: { color: color, width: 3.5, join: 'round' }
  };
}

function marks(data, idx, shape, size, fill, border) {
  return {
    type: 'scatter', data: data, xAxisIndex: idx, yAxisIndex: idx,
    symbol: shape, symbolSize: size, z: 5, silent: true,
    itemStyle: { color: fill, borderColor: border, borderWidth: 1.5, opacity: 1 }
  };
}

function txt(x, y, s, size, color, weight, align) {
  return {
    type: 'text', x: x, y: y, silent: true, z: 10,
    style: {
      text: s, fill: color || '#000',
      font: (weight || 'normal') + ' ' + size + 'px ' + FONT,
      align: align || 'left', verticalAlign: 'middle',
      textAlign: align || 'left', textVerticalAlign: 'middle'
    }
  };
}

function box(x, y, w, h, fill, border) {
  return {
    type: 'rect', shape: { x: x, y: y, width: w, height: h }, z: 10, silent: true,
    style: { fill: fill, stroke: border, lineWidth: 1.5 }
  };
}

function oval(cx, cy, rx, ry) {
  return {
    type: 'ellipse', shape: { cx: cx, cy: cy, rx: rx, ry: ry }, z: 10, silent: true,
    style: { fill: GREY, stroke: '#404040', lineWidth: 1.5 }
  };
}

function yTitle(x, y) {
  return {
    type: 'text', x: x, y: y, rotation: Math.PI / 2, scaleX: 1.25, silent: true, z: 10,
    style: {
      text: 'Intensity, a.u.', fill: '#000', font: 'bold 42px ' + FONT,
      align: 'center', verticalAlign: 'middle', textAlign: 'center', textVerticalAlign: 'middle'
    }
  };
}

let axisText = { color: '#000', fontSize: 40, fontFamily: FONT };

let option = {
  animation: false,
  backgroundColor: {
    type: 'linear', x: 0, y: 0, x2: 0, y2: 1,
    colorStops: [{ offset: 0, color: '#F2E6FD' }, { offset: 1, color: '#EDDDFB' }]
  },
  grid: [
    { left: 144, top: 33, width: 1186, height: 1022, show: true, borderColor: '#000', borderWidth: 3, backgroundColor: 'transparent' },
    { left: 1520, top: 30, width: 1195, height: 1008, show: true, borderColor: '#000', borderWidth: 3, backgroundColor: 'transparent' }
  ],
  xAxis: [
    {
      gridIndex: 0, type: 'value', min: 3, max: 90, position: 'bottom',
      axisLine: { lineStyle: { color: '#000', width: 4 } },
      axisTick: { customValues: majorTicksLeft, length: 18, lineStyle: { color: '#000', width: 3 } },
      axisLabel: Object.assign({ customValues: majorTicksLeft, margin: 33 }, axisText),
      splitLine: { show: false }
    },
    {
      gridIndex: 0, type: 'value', min: 3, max: 90, position: 'bottom',
      axisLine: { show: false },
      axisTick: { customValues: minorTicksLeft, length: 8, lineStyle: { color: '#000', width: 3 } },
      axisLabel: { show: false },
      splitLine: { show: false }
    },
    {
      gridIndex: 1, type: 'value', min: 0, max: 90, interval: 10, position: 'bottom',
      axisLine: { lineStyle: { color: '#000', width: 4 } },
      axisTick: { length: 20, lineStyle: { color: '#000', width: 3 } },
      minorTick: { show: true, splitNumber: 2, length: 10, lineStyle: { color: '#000', width: 3 } },
      axisLabel: Object.assign({ margin: 34 }, axisText),
      splitLine: { show: false }, minorSplitLine: { show: false }
    }
  ],
  yAxis: [
    { gridIndex: 0, type: 'value', min: 0, max: 1022, show: false, splitLine: { show: false } },
    { gridIndex: 0, type: 'value', min: 0, max: 1022, show: false, splitLine: { show: false } },
    { gridIndex: 1, type: 'value', min: 0, max: 1008, show: false, splitLine: { show: false } }
  ],
  series: [
    line(SA96, '#000000', 0),
    line(metSA96, '#0000FF', 0),
    line(oxSA96, '#FF0000', 0),
    line(AST1, '#000000', 2),
    line(metAST1, '#0000FF', 2),
    line(oxAST1, '#FF0000', 2),

    marks(cooLeft, 0, 'rect', 24, GREY, '#404040'),
    marks(feLeft, 0, 'circle', [29, 31], GREY, '#404040'),
    marks(coLeft, 0, 'rect', 24, '#000000', '#000000'),
    marks(coDotLeft, 0, 'circle', 22, '#000000', '#000000'),
    marks(co3o4Left, 0, 'rect', 24, '#FF0000', '#500000'),

    marks(cooRight, 2, 'rect', 24, GREY, '#404040'),
    marks(feRight, 2, 'circle', [29, 31], GREY, '#404040'),
    marks(coRight, 2, 'rect', 24, '#000000', '#000000'),
    marks(co3o4Right, 2, 'rect', 24, '#FF0000', '#500000')
  ],
  graphic: [
    // left legend
    box(167, 68, 25, 25, GREY, '#404040'),
    oval(181, 147, 14, 15.5),
    box(168, 199, 25, 26, '#000', '#000'),
    box(169, 263, 24, 25, '#FF0000', '#500000'),
    txt(215, 79, 'CoO', 52),
    txt(218, 148, 'Fe', 52),
    txt(215, 214, 'Co', 52),
    txt(211, 280, 'Co', 52),
    txt(276, 302, '3', 34),
    txt(295, 280, 'O', 52),
    txt(335, 302, '4', 34),

    // right legend
    box(1539, 64, 25, 24, GREY, '#404040'),
    oval(1552, 140, 15, 16),
    box(1538, 191, 25, 24, '#000', '#000'),
    box(1539, 255, 25, 26, '#FF0000', '#500000'),
    txt(1583, 74, 'CoO', 52),
    txt(1594, 139, 'Fe', 52),
    txt(1581, 203, 'Co', 52),
    txt(1577, 270, 'Co', 52),
    txt(1642, 292, '3', 34),
    txt(1661, 270, 'O', 52),
    txt(1701, 292, '4', 34),

    // sample names
    txt(628, 147, 'CoFe(ox)/SA96', 50, '#FF0000', 'bold'),
    txt(505, 680, 'CoFe(met)/SA96', 50, '#0000FF', 'bold'),
    txt(1098, 927, 'SA96', 50, '#000', 'bold'),
    txt(2333, 476, 'CoFe(ox)/AST1', 50, '#FF0000', 'bold'),
    txt(1697, 740, 'CoFe(met)/AST1', 50, '#0000FF', 'bold'),
    txt(2547, 948, 'AST1', 50, '#000', 'bold'),

    // axis titles
    txt(738, 1192, '2\u0398,  degree', 50, '#000', 'bold', 'center'),
    txt(2115, 1180, '2\u0398, degree', 50, '#000', 'bold', 'center'),
    yTitle(50, 510),
    yTitle(1423, 502)
  ]
};

chart.setOption(option);
</script>
</body>
</html>
